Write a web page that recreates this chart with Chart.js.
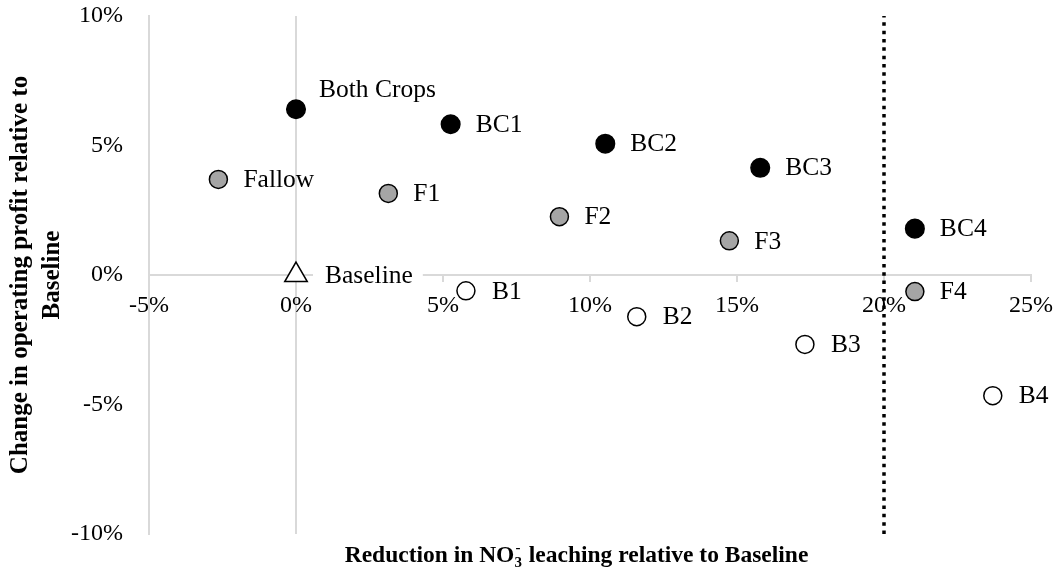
<!DOCTYPE html>
<html>
<head>
<meta charset="utf-8">
<script src="https://cdn.jsdelivr.net/npm/chart.js@4/dist/chart.umd.min.js"></script>
<style>
  html, body { margin: 0; padding: 0; background: #fff; }
  #wrap { width: 1053px; height: 569px; position: relative; }
</style>
</head>
<body>
<div id="wrap"><canvas id="c" width="1053" height="569"></canvas></div>
<script>
// ---- data (percent units) ----
const bothLabels   = ['Both Crops', 'BC1', 'BC2', 'BC3', 'BC4'];
const bothX        = [0, 5.26, 10.52, 15.79, 21.05];
const bothY        = [6.40, 5.82, 5.07, 4.14, 1.79];

const fallowLabels = ['Fallow', 'F1', 'F2', 'F3', 'F4'];
const fallowX      = [-2.64, 3.14, 8.96, 14.74, 21.05];
const fallowY      = [3.69, 3.15, 2.25, 1.32, -0.64];

const bareLabels   = ['B1', 'B2', 'B3', 'B4'];
const bareX        = [5.78, 11.59, 17.31, 23.70];
const bareY        = [-0.61, -1.61, -2.68, -4.66];

const baselineLabels = ['Baseline'];
const baselineX      = [0];
const baselineY      = [0];

const thresholdX   = [20, 20];
const thresholdY   = [-10, 10];

const xTickValues  = [-5, 0, 5, 10, 15, 20, 25];
const yTickValues  = [-10, -5, 0, 5, 10];

const yTitleLines  = ['Change in operating profit relative to', 'Baseline'];
const xTitleParts  = ['Reduction in NO', '3', '-', ' leaching relative to Baseline'];

const toPts = (xs, ys) => xs.map((x, i) => ({ x: x, y: ys[i] }));

const SERIF = "'Liberation Serif', 'Times New Roman', serif";
const GRID = '#d9d9d9';

const pointLabels = {
  id: 'pointLabels',
  afterDatasetsDraw(chart) {
    const ctx = chart.ctx;
    ctx.save();
    ctx.font = "25.5px " + SERIF;
    ctx.textBaseline = 'middle';
    ctx.textAlign = 'left';
    chart.data.datasets.forEach((ds, di) => {
      if (!ds.pointNames) return;
      const meta = chart.getDatasetMeta(di);
      meta.data.forEach((el, i) => {
        const name = ds.pointNames[i];
        let lx = el.x + (ds.labelDx || 25);
        let ly = el.y + 1;
        if (ds.labelAbove && ds.labelAbove[i]) { lx = el.x + 23; ly = el.y - 19; }
        if (ds.labelBg) {
          const w = ctx.measureText(name).width;
          ctx.fillStyle = '#fff';
          ctx.fillRect(lx - 12, ly - 13, w + 22, 26);
        }
        ctx.fillStyle = '#000';
        ctx.fillText(name, lx, ly);
      });
    });
    ctx.restore();
  }
};

const xTitle = {
  id: 'xTitle',
  afterDraw(chart) {
    const ctx = chart.ctx;
    ctx.save();
    const big = "bold 23.5px " + SERIF;
    const small = "bold 15px " + SERIF;
    ctx.textBaseline = 'alphabetic';
    ctx.textAlign = 'left';
    ctx.font = big;
    const w0 = ctx.measureText(xTitleParts[0]).width;
    const w3 = ctx.measureText(xTitleParts[3]).width;
    ctx.font = small;
    const w1 = ctx.measureText(xTitleParts[1]).width;
    const w2 = ctx.measureText(xTitleParts[2]).width;
    const total = w0 + Math.max(w1, w2) + w3;
    const cx = 576, by = 562;
    let x = cx - total / 2;
    ctx.fillStyle = '#000';
    ctx.font = big;
    ctx.fillText(xTitleParts[0], x, by);
    x += w0;
    ctx.font = small;
    ctx.fillText(xTitleParts[1], x, by + 5);
    ctx.fillText(xTitleParts[2], x + 1, by - 10);
    x += Math.max(w1, w2) + 1;
    ctx.font = big;
    ctx.fillText(xTitleParts[3], x, by);
    ctx.restore();
  }
};

new Chart(document.getElementById('c'), {
  type: 'scatter',
  data: {
    datasets: [
      {
        label: 'Threshold',
        type: 'line',
        data: toPts(thresholdX, thresholdY),
        borderColor: '#000',
        borderWidth: 3.5,
        borderDash: [3.5, 4.83],
        pointRadius: 0,
        fill: false,
        order: 5
      },
      {
        label: 'Both Crops',
        data: toPts(bothX, bothY),
        pointNames: bothLabels,
        labelAbove: [true, false, false, false, false],
        pointStyle: 'circle',
        pointRadius: 9.3,
        pointBackgroundColor: '#000',
        pointBorderColor: '#000',
        pointBorderWidth: 1.5,
        order: 1
      },
      {
        label: 'Fallow',
        data: toPts(fallowX, fallowY),
        pointNames: fallowLabels,
        pointStyle: 'circle',
        pointRadius: 9,
        pointBackgroundColor: '#a5a5a5',
        pointBorderColor: '#000',
        pointBorderWidth: 1.5,
        order: 2
      },
      {
        label: 'Bare',
        data: toPts(bareX, bareY),
        pointNames: bareLabels,
        labelDx: 26,
        pointStyle: 'circle',
        pointRadius: 9,
        pointBackgroundColor: '#fff',
        pointBorderColor: '#000',
        pointBorderWidth: 1.5,
        order: 3
      },
      {
        label: 'Baseline',
        data: toPts(baselineX, baselineY),
        pointNames: baselineLabels,
        labelDx: 29,
        labelBg: true,
        pointStyle: 'triangle',
        pointRadius: 13,
        pointBackgroundColor: '#fff',
        pointBorderColor: '#000',
        pointBorderWidth: 1.5,
        order: 4
      }
    ]
  },
  options: {
    responsive: false,
    animation: false,
    events: [],
    layout: { padding: { left: 0, right: 22, top: 16, bottom: 35 } },
    plugins: {
      legend: { display: false },
      tooltip: { enabled: false }
    },
    scales: {
      x: {
        type: 'linear',
        position: { y: 0 },
        min: -5, max: 25,
        afterBuildTicks: (s) => { s.ticks = xTickValues.map(v => ({ value: v })); },
        afterFit: (s) => { s.height = 0; s.paddingLeft = 0; s.paddingRight = 0; },
        ticks: {
          callback: (v) => v + '%',
          color: '#000',
          font: { family: SERIF, size: 24 },
          padding: 10,
          maxRotation: 0,
          autoSkip: false
        },
        grid: {
          color: (c) => (c.tick && c.tick.value === 0) ? GRID : 'rgba(0,0,0,0)',
          lineWidth: 2,
          drawTicks: true,
          tickLength: 6,
          tickColor: GRID,
          tickWidth: 2
        },
        border: { display: true, color: GRID, width: 2 }
      },
      y: {
        type: 'linear',
        position: 'left',
        min: -10, max: 10,
        afterBuildTicks: (s) => { s.ticks = yTickValues.map(v => ({ value: v })); },
        afterFit: (s) => { s.width = 149; s.paddingTop = 0; s.paddingBottom = 0; },
        ticks: {
          callback: (v) => v + '%',
          color: '#000',
          font: { family: SERIF, size: 24 },
          padding: 26
        },
        grid: { display: false, drawTicks: false },
        border: { display: true, color: GRID, width: 2 },
        title: {
          display: true,
          text: yTitleLines,
          color: '#000',
          font: { family: SERIF, size: 25, weight: 'bold', lineHeight: 1.3 },
          padding: { top: 4, bottom: 0 }
        }
      }
    }
  },
  plugins: [pointLabels, xTitle]
});
</script>
</body>
</html>
